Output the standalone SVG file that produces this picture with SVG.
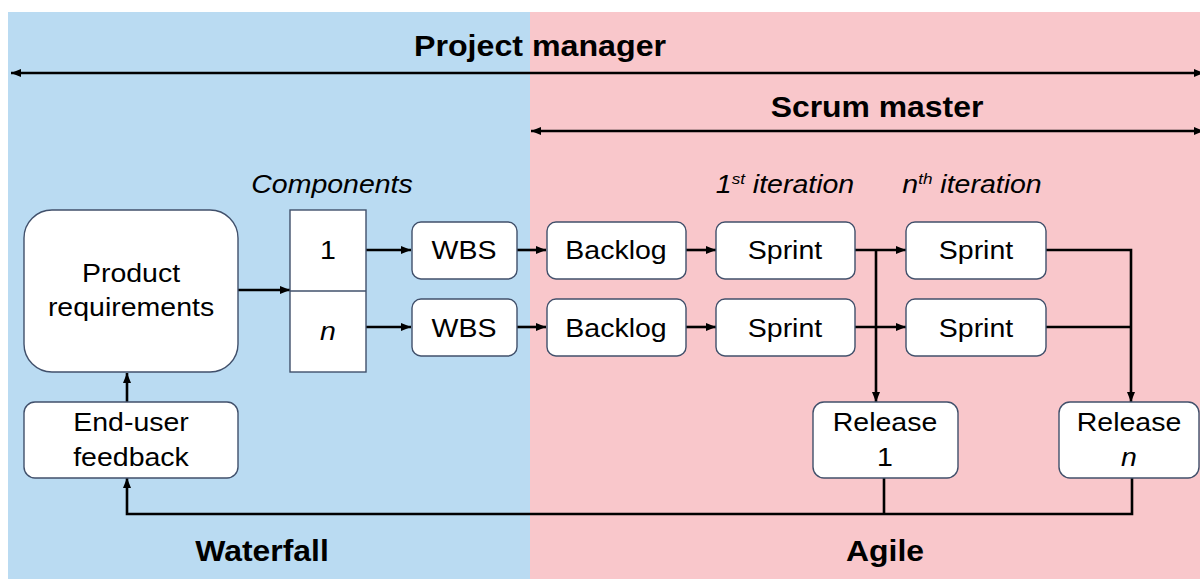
<svg xmlns="http://www.w3.org/2000/svg" width="1200" height="579" viewBox="0 0 1200 579">
  <style>
    .box { fill: #ffffff; stroke: #41506b; stroke-width: 1.4; }
    .wire { fill: none; stroke: #000000; stroke-width: 2.6; }
    .t { font-family: "Liberation Sans", Arial, sans-serif; font-size: 25px; fill: #000000; text-anchor: middle; }
    .i { font-style: italic; }
    .b { font-weight: bold; font-size: 29px; }
    .sup { font-size: 15px; }
  </style>
  <defs>
    <marker id="ah" markerWidth="11" markerHeight="11" refX="10" refY="5.5" orient="auto-start-reverse" markerUnits="userSpaceOnUse">
      <path d="M0,1.5 L10,5.5 L0,9.5 Z" fill="#000000"/>
    </marker>
  </defs>

  <!-- background panels -->
  <rect x="0" y="0" width="1200" height="579" fill="#ffffff"/>
  <rect id="waterfall-panel" x="8" y="12" width="522" height="567" fill="#badbf2"/>
  <rect id="agile-panel" x="530" y="12" width="670" height="567" fill="#f9c7cb"/>

  <!-- role titles -->
  <text class="t b" transform="translate(540,56) scale(1.11,1)">Project manager</text>
  <text class="t b" transform="translate(877,117) scale(1.1,1)">Scrum master</text>
  <text class="t b" transform="translate(262,561) scale(1.1,1)">Waterfall</text>
  <text class="t b" transform="translate(885,561) scale(1.1,1)">Agile</text>

  <!-- column headings -->
  <text class="t i" transform="translate(332,193) scale(1.14,1)">Components</text>
  <text class="t i" transform="translate(785,193) scale(1.14,1)">1<tspan class="sup" dy="-9">st</tspan><tspan dy="9"> iteration</tspan></text>
  <text class="t i" transform="translate(972,193) scale(1.14,1)">n<tspan class="sup" dy="-9">th</tspan><tspan dy="9"> iteration</tspan></text>

  <!-- connectors -->
  <g id="connectors">
    <line class="wire" x1="11" y1="73" x2="1204" y2="73" marker-start="url(#ah)" marker-end="url(#ah)"/>
    <line class="wire" x1="531" y1="131" x2="1204" y2="131" marker-start="url(#ah)" marker-end="url(#ah)"/>
    <line class="wire" x1="238" y1="290" x2="290" y2="290" marker-end="url(#ah)"/>
    <line class="wire" x1="366" y1="250" x2="411" y2="250" marker-end="url(#ah)"/>
    <line class="wire" x1="366" y1="327" x2="411" y2="327" marker-end="url(#ah)"/>
    <line class="wire" x1="517" y1="250" x2="546" y2="250" marker-end="url(#ah)"/>
    <line class="wire" x1="517" y1="327" x2="546" y2="327" marker-end="url(#ah)"/>
    <line class="wire" x1="686" y1="250" x2="716" y2="250" marker-end="url(#ah)"/>
    <line class="wire" x1="686" y1="327" x2="716" y2="327" marker-end="url(#ah)"/>
    <line class="wire" x1="855" y1="250" x2="906" y2="250" marker-end="url(#ah)"/>
    <line class="wire" x1="855" y1="327" x2="906" y2="327" marker-end="url(#ah)"/>
    <path class="wire" d="M876,250 V402" marker-end="url(#ah)"/>
    <path class="wire" d="M1046,250 H1131 V402" marker-end="url(#ah)"/>
    <path class="wire" d="M1046,327 H1131"/>
    <path class="wire" d="M884,478 V514"/>
    <path class="wire" d="M1132,478 V514 H127 V478" marker-end="url(#ah)"/>
    <path class="wire" d="M127,402 V373" marker-end="url(#ah)"/>
  </g>

  <!-- nodes -->
  <g id="product-requirements">
    <rect class="box" x="24" y="210" width="214" height="162" rx="28"/>
    <text class="t" transform="translate(131,282) scale(1.14,1)">Product</text>
    <text class="t" transform="translate(131,316) scale(1.14,1)">requirements</text>
  </g>
  <g id="components">
    <rect class="box" x="290" y="210" width="76" height="162"/>
    <line x1="290" y1="291" x2="366" y2="291" stroke="#41506b" stroke-width="1.4"/>
    <text class="t" transform="translate(328,259) scale(1.14,1)">1</text>
    <text class="t i" transform="translate(328,340) scale(1.14,1)">n</text>
  </g>
  <g id="wbs-1">
    <rect class="box" x="412" y="222" width="105" height="57" rx="9"/>
    <text class="t" transform="translate(464,259) scale(1.14,1)">WBS</text>
  </g>
  <g id="wbs-n">
    <rect class="box" x="412" y="299" width="105" height="57" rx="9"/>
    <text class="t" transform="translate(464,337) scale(1.14,1)">WBS</text>
  </g>
  <g id="backlog-1">
    <rect class="box" x="547" y="222" width="139" height="57" rx="9"/>
    <text class="t" transform="translate(616,259) scale(1.14,1)">Backlog</text>
  </g>
  <g id="backlog-n">
    <rect class="box" x="547" y="299" width="139" height="57" rx="9"/>
    <text class="t" transform="translate(616,337) scale(1.14,1)">Backlog</text>
  </g>
  <g id="sprint-1-1">
    <rect class="box" x="716" y="222" width="139" height="57" rx="9"/>
    <text class="t" transform="translate(785,259) scale(1.14,1)">Sprint</text>
  </g>
  <g id="sprint-1-n">
    <rect class="box" x="716" y="299" width="139" height="57" rx="9"/>
    <text class="t" transform="translate(785,337) scale(1.14,1)">Sprint</text>
  </g>
  <g id="sprint-n-1">
    <rect class="box" x="906" y="222" width="140" height="57" rx="9"/>
    <text class="t" transform="translate(976,259) scale(1.14,1)">Sprint</text>
  </g>
  <g id="sprint-n-n">
    <rect class="box" x="906" y="299" width="140" height="57" rx="9"/>
    <text class="t" transform="translate(976,337) scale(1.14,1)">Sprint</text>
  </g>
  <g id="release-1">
    <rect class="box" x="813" y="402" width="145" height="76" rx="11"/>
    <text class="t" transform="translate(885,431) scale(1.14,1)">Release</text>
    <text class="t" transform="translate(885,466) scale(1.14,1)">1</text>
  </g>
  <g id="release-n">
    <rect class="box" x="1059" y="402" width="140" height="76" rx="11"/>
    <text class="t" transform="translate(1129,431) scale(1.14,1)">Release</text>
    <text class="t i" transform="translate(1129,466) scale(1.14,1)">n</text>
  </g>
  <g id="end-user-feedback">
    <rect class="box" x="24" y="402" width="214" height="76" rx="11"/>
    <text class="t" transform="translate(131,431) scale(1.14,1)">End-user</text>
    <text class="t" transform="translate(131,466) scale(1.14,1)">feedback</text>
  </g>
</svg>
